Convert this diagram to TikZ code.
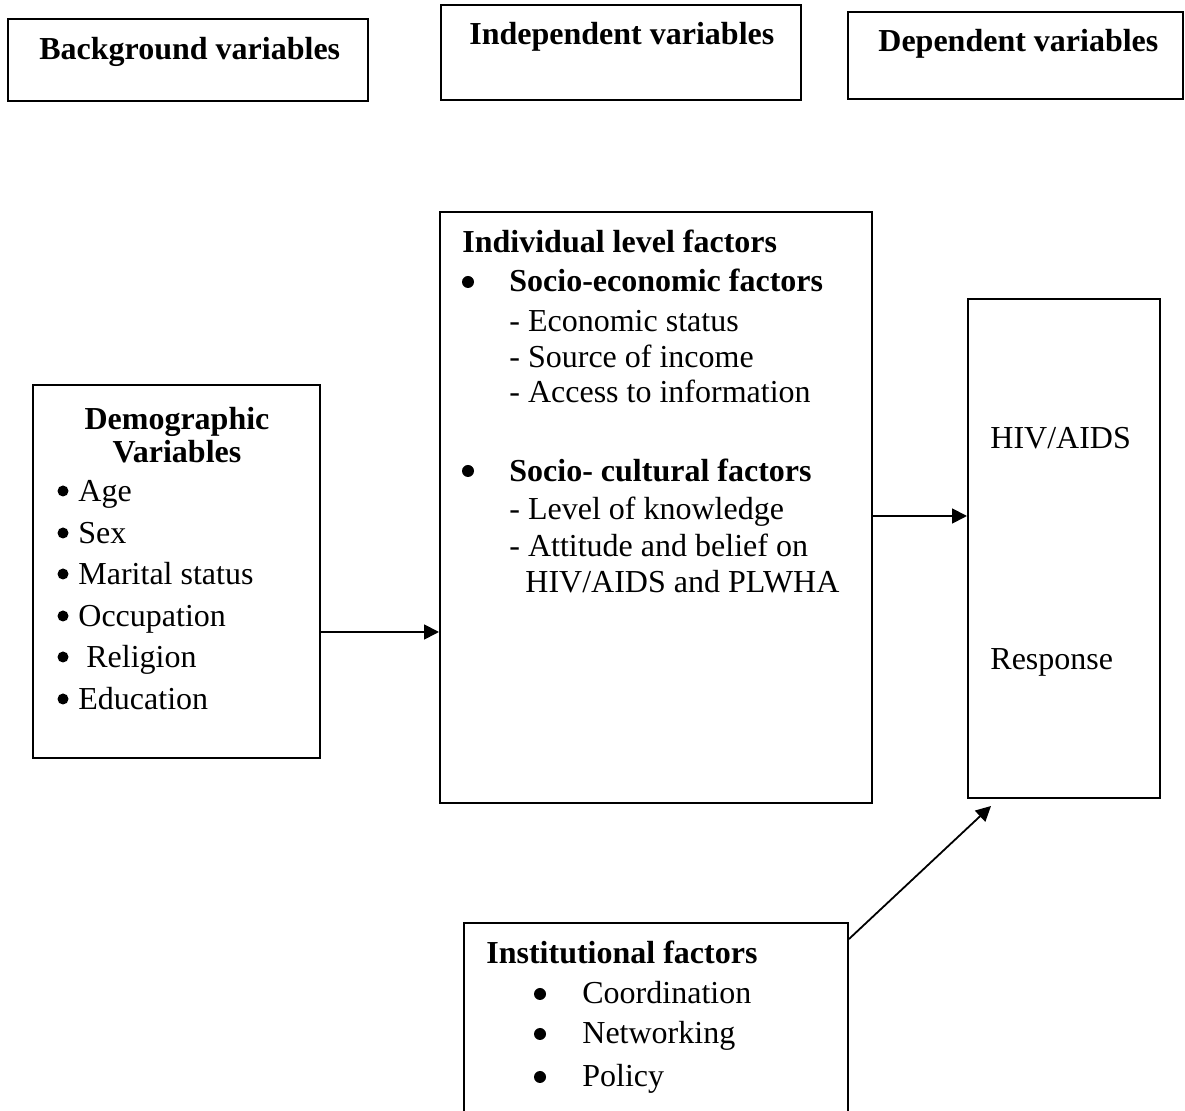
\documentclass[tikz,border=0pt]{standalone}
\usepackage{fontspec}
\setmainfont{Liberation Serif}
\usetikzlibrary{arrows.meta,calc}
\tikzset{
  box/.style={draw, line width=1pt, inner sep=0pt, rectangle},
  txt/.style={inner sep=0pt, anchor=base west, font=\fontsize{16}{19}\selectfont},
  btxt/.style={inner sep=0pt, anchor=base west, font=\fontsize{16}{19}\selectfont\bfseries},
  ctxt/.style={inner sep=0pt, anchor=base, font=\fontsize{16}{19}\selectfont\bfseries},
  bul/.style={circle, fill=black, inner sep=0pt, minimum size=5.5pt},
  arr/.style={line width=0.9pt, -{Triangle[length=7.5pt,width=7.5pt]}}
}
\begin{document}
\begin{tikzpicture}[x=0.5pt,y=-0.5pt]
\clip (0,0) rectangle (1185,1111);
\fill[white] (0,0) rectangle (1185,1111);
% header boxes
\node[box, minimum width=180pt, minimum height=41pt] (bg) at (188,60) {};
\node[box, minimum width=180pt, minimum height=47.5pt] (ind) at (621,52.5) {};
\node[box, minimum width=167.5pt, minimum height=43.5pt] (dep) at (1015.5,55.5) {};
\node[btxt] (bgt) at (39,60) {Background variables};
\node[btxt] (indt) at (469,45) {Independent variables};
\node[btxt] (dept) at (878,52) {Dependent variables};
% demographic box
\node[box, minimum width=143.5pt, minimum height=186.5pt] (demo) at (176.5,571.5) {};
\node[ctxt] (d1) at (177,430) {Demographic};
\node[ctxt] (d2) at (177,463) {Variables};
\foreach \yy/\nm in {502/b3,544/b4,585/b5,627/b6,668/b7,710/b8}{
  \node[bul] (\nm) at (63,\yy-11) {};
}
\node[txt] (d3) at (78,502) {Age};
\node[txt] (d4) at (78,544) {Sex};
\node[txt] (d5) at (78,585) {Marital status};
\node[txt] (d6) at (78,627) {Occupation};
\node[txt] (d7) at (86,668) {Religion};
\node[txt] (d8) at (78,710) {Education};
% individual box
\node[box, minimum width=216pt, minimum height=295.5pt] (indiv) at (656,507.5) {};
\node[btxt] (i1) at (462,253) {Individual level factors};
\node[bul, minimum size=6pt] (i2b) at (468,282) {};
\node[btxt] (i2) at (509,292) {Socio-economic factors};
\node[txt] (i3) at (509,332) {- Economic status};
\node[txt] (i4) at (509,368) {- Source of income};
\node[txt] (i5) at (509,403) {- Access to information};
\node[bul, minimum size=6pt] (i6b) at (468,471) {};
\node[btxt] (i6) at (509,482) {Socio- cultural factors};
\node[txt] (i7) at (509,520) {- Level of knowledge};
\node[txt] (i8) at (509,557) {- Attitude and belief on};
\node[txt] (i9) at (525,593) {HIV/AIDS and PLWHA};
% outcome box
\node[box, minimum width=96pt, minimum height=249.5pt] (out) at (1064,548.5) {};
\node[txt] (o1) at (990,449) {HIV/AIDS};
\node[txt] (o2) at (990,670) {Response};
% institutional box
\node[box, minimum width=192pt, minimum height=103.5pt] (inst) at (656,1026.5) {};
\node[btxt] (n1) at (486,964) {Institutional factors};
\node[bul, minimum size=6pt] (n2b) at (540,994) {};
\node[txt] (n2) at (582,1004) {Coordination};
\node[bul, minimum size=6pt] (n3b) at (540,1034) {};
\node[txt] (n3) at (582,1044) {Networking};
\node[bul, minimum size=6pt] (n4b) at (540,1077) {};
\node[txt] (n4) at (582,1087) {Policy};
% connectors
\coordinate (a1) at ($(demo.east)+(0,60.5)$);
\draw[arr] (a1) -- (a1 -| indiv.west);
\coordinate (a2) at ($(indiv.east)+(0,8.5)$);
\draw[arr] (a2) -- (a2 -| out.west);
\coordinate (a3) at ($(inst.north east)+(0,17)$);
\coordinate (a4) at ($(out.south west)+(24,7)$);
\draw[arr] (a3) -- (a4);
\end{tikzpicture}
\end{document}
